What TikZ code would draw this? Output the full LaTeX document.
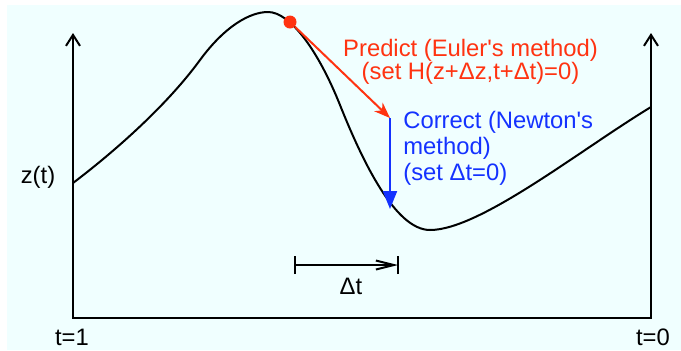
\documentclass[tikz,border=0pt]{standalone}
\usepackage{fontspec}
\setmainfont{Liberation Sans}
\usetikzlibrary{calc,arrows.meta}
\definecolor{bgcyan}{RGB}{240,255,255}
\definecolor{predred}{RGB}{255,51,17}
\definecolor{corrblue}{RGB}{20,50,255}

\begin{document}
\begin{tikzpicture}[x=0.5pt,y=-0.5pt,
    axisline/.style={line width=1pt,line join=miter},
    lbl/.style={inner sep=0pt,font=\fontsize{11.9}{13}\selectfont}]

  % Background
  \useasboundingbox (0,0) rectangle (681,350);
  \fill[bgcyan] (7,5) rectangle (681,350);

  % Axes
  \coordinate (org) at (73,318);
  \coordinate (ltop) at (73,33);
  \coordinate (rbot) at (651,318);
  \coordinate (rtop) at (651,33);
  \draw[axisline,{Straight Barb[length=5.5pt,width=7pt]}-{Straight Barb[length=5.5pt,width=7pt]}]
    (ltop) -- (org) -- (rbot) -- (rtop);
  \node[lbl,anchor=base] (zt) at (38,183) {z(t)};
  \node[lbl,anchor=base] (tone) at (72,345) {t=1};
  \node[lbl,anchor=base] (tzero) at (653,345) {t=0};

  % Path z(t)
  \draw[line width=1pt] (73,183) .. controls (110,155) and (165,108) .. (200,60)
    .. controls (225,26) and (250,12) .. (268,12)
    .. controls (290,12) and (318,50) .. (340,105)
    .. controls (362,160) and (395,230) .. (430,230)
    .. controls (480,230) and (580,150) .. (651,107);

  % Predictor step
  \node[circle,fill=predred,inner sep=0pt,minimum size=6.5pt] (pred) at (290,22) {};
  \coordinate (corr) at (390,118);
  \draw[predred,line width=1pt,-{Stealth[length=8pt,width=6pt,inset=2.5pt]}] (pred) -- (corr);
  \node[lbl,predred,align=center,anchor=base,font=\fontsize{11.9}{11.3}\selectfont]
    (predtxt) at (470.5,79.3) {Predict (Euler\textquotesingle s method)\\(set H(z+Δz,t+Δt)=0)};

  % Corrector step
  \coordinate (newpt) at (390,209);
  \draw[corrblue,line width=1pt,-{Triangle[length=9pt,width=7pt]}] (corr) -- (newpt);
  \node[lbl,corrblue,align=left,anchor=base west] (corrtxt) at (403,180.7)
    {Correct (Newton\textquotesingle s\\method)\\(set Δt=0)};

  % Step size
  \coordinate (dtl) at (295,265);
  \coordinate (dtr) at (398,265);
  \draw[line width=1pt,-{Straight Barb[length=9pt,width=4.5pt]}] (dtl) -- (dtr);
  \draw[line width=1pt] ([yshift=-4.5pt]dtl) -- ([yshift=4.5pt]dtl);
  \draw[line width=1pt] ([yshift=-4.5pt]dtr) -- ([yshift=4.5pt]dtr);
  \node[lbl,anchor=base] (dt) at (351,294) {Δt};

\end{tikzpicture}
\end{document}
